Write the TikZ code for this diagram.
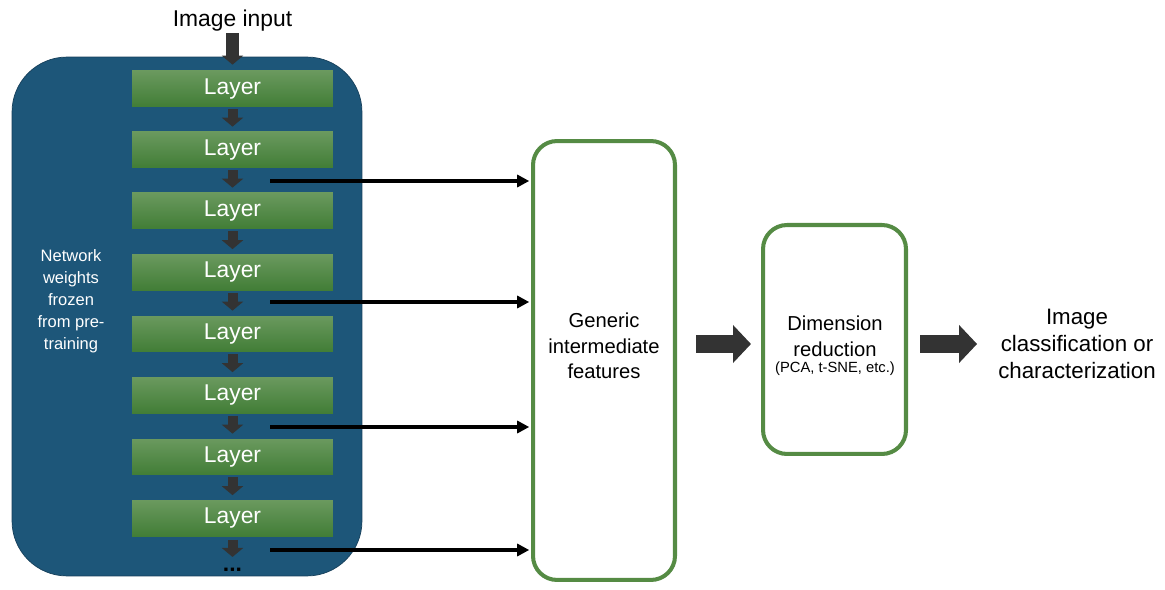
\documentclass[tikz,border=0pt]{standalone}
\usepackage{fontspec}
\setmainfont{Liberation Sans}
\usetikzlibrary{arrows.meta}
\definecolor{panelblue}{HTML}{1D5679}
\definecolor{paneledge}{HTML}{163F5A}
\definecolor{layertop}{HTML}{6A995E}
\definecolor{layerbot}{HTML}{417D36}
\definecolor{boxgreen}{HTML}{558B44}
\definecolor{arrowgrey}{HTML}{333333}

\begin{document}
\begin{tikzpicture}[x=0.02cm, y=-0.02cm,
  layer/.style={minimum width=4.02cm, minimum height=0.72cm, inner sep=0pt,
    top color=layertop, bottom color=layerbot, text=white,
    font=\fontsize{13}{15}\selectfont},
  down/.style={draw=arrowgrey, line width=0.2cm,
    -{Triangle[length=0.18cm, width=0.42cm]}},
  tap/.style={draw=black, line width=1.9pt,
    -{Triangle[length=0.24cm, width=0.24cm]}},
  stage/.style={draw=boxgreen, line width=2.3pt, rounded corners=0.48cm},
  big/.style={draw=arrowgrey, line width=0.36cm,
    -{Triangle[length=0.36cm, width=0.74cm]}},
  lbl/.style={align=center, font=\fontsize{11.5}{14.5}\selectfont}]
  \useasboundingbox (0,0) rectangle (1165,590);

  % frozen network
  \node[fill=panelblue, draw=paneledge, thin, rounded corners=1.1cm,
    minimum width=7cm, minimum height=10.38cm] (net) at (187,316.5) {};
  \node[text=white, align=center, font=\fontsize{9.4}{12.5}\selectfont] (frozen) at (71,301)
    {Network\\weights\\frozen\\from pre-\\training};

  \node[font=\fontsize{13}{15}\selectfont, inner sep=1pt] (in) at (232.5,20.5) {Image input};
  \node[layer] (L1) at (232.5,89) {Layer};
  \node[layer] (L2) at (232.5,150) {Layer};
  \node[layer] (L3) at (232.5,211) {Layer};
  \node[layer] (L4) at (232.5,272.5) {Layer};
  \node[layer] (L5) at (232.5,334) {Layer};
  \node[layer] (L6) at (232.5,395.5) {Layer};
  \node[layer] (L7) at (232.5,457) {Layer};
  \node[layer] (L8) at (232.5,518.5) {Layer};
  \node[font=\fontsize{13}{15}\selectfont\bfseries, inner sep=0pt] (dots) at (232.5,570) {...};

  \draw[down, line width=0.26cm, shorten >=0.12cm] (in.south) -- (L1.north);
  \draw[down, shorten <=0.04cm, shorten >=0.1cm] (L1.south) -- (L2.north);
  \draw[down, shorten <=0.04cm, shorten >=0.1cm] (L2.south) -- (L3.north);
  \draw[down, shorten <=0.04cm, shorten >=0.1cm] (L3.south) -- (L4.north);
  \draw[down, shorten <=0.04cm, shorten >=0.1cm] (L4.south) -- (L5.north);
  \draw[down, shorten <=0.04cm, shorten >=0.1cm] (L5.south) -- (L6.north);
  \draw[down, shorten <=0.04cm, shorten >=0.1cm] (L6.south) -- (L7.north);
  \draw[down, shorten <=0.04cm, shorten >=0.1cm] (L7.south) -- (L8.north);
  \draw[down, shorten <=0.06cm, shorten >=0.22cm] (L8.south) -- (dots.north);

  % features and reduction
  \node[stage, minimum width=2.84cm, minimum height=8.78cm] (feat) at (604,360.5) {};
  \node[lbl] (featlbl) at (604,346) {Generic\\intermediate\\features};
  \node[stage, minimum width=2.86cm, minimum height=4.58cm] (dim) at (834.5,339.5) {};
  \node[lbl] (dimlbl) at (835,346)
    {Dimension\\reduction\\[-5pt]{\fontsize{8.4}{10}\selectfont (PCA, t-SNE, etc.)}};
  \node[align=center, font=\fontsize{12.7}{15.3}\selectfont] (out) at (1077,344)
    {Image\\classification or\\characterization};

  \coordinate (t1) at (270,181);
  \coordinate (t2) at (270,302);
  \coordinate (t3) at (270,427);
  \coordinate (t4) at (270,550);
  \draw[tap, shorten >=1pt] (t1) -- (t1 -| feat.west);
  \draw[tap, shorten >=1pt] (t2) -- (t2 -| feat.west);
  \draw[tap, shorten >=1pt] (t3) -- (t3 -| feat.west);
  \draw[tap, shorten >=1pt] (t4) -- (t4 -| feat.west);

  \coordinate (mid) at (0,344);
  \draw[big, shorten <=0.38cm, shorten >=0.2cm] (feat.east |- mid) -- (dim.west |- mid);
  \draw[big, shorten <=0.24cm, shorten >=0.3cm] (dim.east |- mid) -- (out.west |- mid);
\end{tikzpicture}
\end{document}
